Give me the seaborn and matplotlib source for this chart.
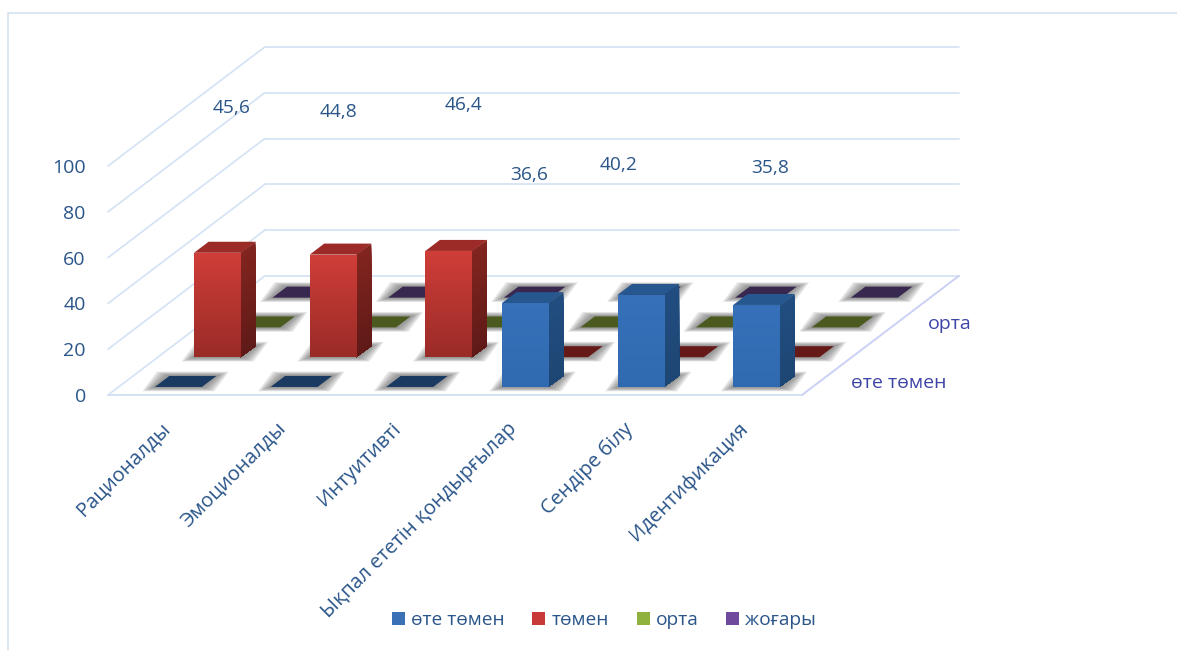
import matplotlib
matplotlib.use('Agg')
import matplotlib.pyplot as plt
import numpy as np
import pandas as pd
import seaborn as sns
from matplotlib.colors import to_rgb
from matplotlib.lines import Line2D
from matplotlib.patches import Patch, Polygon
from matplotlib.transforms import ScaledTranslation

categories = ['Рационалды', 'Эмоционалды', 'Интуитивті',
              'Ықпал ететін қондырғылар', 'Сендіре білу', 'Идентификация']
series_names = ['өте төмен', 'төмен', 'орта', 'жоғары']
very_low = [0, 0, 0, 36.6, 40.2, 35.8]
low = [45.6, 44.8, 46.4, 0, 0, 0]
medium = [0, 0, 0, 0, 0, 0]
high = [0, 0, 0, 0, 0, 0]
y_ticks = [0, 20, 40, 60, 80, 100]
depth_labels = {0: 'өте төмен', 2: 'орта'}

# styling: legend, front top, front bottom, top face, side top, side bottom, flat
palette = {
    'өте төмен': ['#3A70B5', '#3670B8', '#2F69B0', '#27578F', '#214D80', '#1E4674', '#1A3A62'],
    'төмен': ['#C8393A', '#CF3D38', '#982A26', '#9C2A27', '#83241F', '#5E1A17', '#651A18'],
    'орта': ['#8FB13E', '#8FB13E', '#7A9835', '#5E7027', '#56661F', '#4B5A1E', '#4B5A1E'],
    'жоғары': ['#6F4A9C', '#6F4A9C', '#5F3F88', '#46315F', '#40295A', '#38274F', '#38274F'],
}
# label offsets from the top of each bar, in pixels
label_offsets = [(14, 145), (5, 143), (15, 146), (4, 128), (-22, 130), (13, 137)]
depth_offsets = {0: (77, -3), 2: (50, -3)}

TEXT = '#2A5589'
GRID = '#D3E2F4'
DEPTH_X = 0.339   # one series back, in categories
DEPTH_Y = 13.0    # one series back, in value units
BAR_W = 0.407
FRONT_X, FRONT_Y = 0.32, 0.27
BAR_D = 0.37
STRIPS = 40

sns.set_theme(style='white')
plt.rcParams['font.family'] = ['Open Sans', 'Noto Sans', 'DejaVu Sans']

df = pd.DataFrame({
    'category': categories * 4,
    'series': np.repeat(series_names, 6),
    'value': very_low + low + medium + high,
})

fig = plt.figure(figsize=(11.77, 6.5), dpi=100, facecolor='white')
ax = fig.add_axes([108 / 1177, 1 - 395 / 650, 694 / 1177, 229 / 650])
ax.patch.set_alpha(0)


def gradient_face(x0, x1, y0, h, skew, top, bottom, z):
    # stacked strips from the top down, each one running to the bottom of the face
    top, bottom = np.array(to_rgb(top)), np.array(to_rgb(bottom))
    for k in range(STRIPS):
        f = k / STRIPS
        y_top = y0 + h * (1 - f)
        ax.add_patch(Polygon([(x0, y0), (x1, y0 + skew), (x1, y_top + skew), (x0, y_top)],
                             closed=True, fc=tuple(top + (bottom - top) * f), ec='none',
                             zorder=z, clip_on=False))


def floor_shadow(x0, x1, y0):
    dx, dy = BAR_D * DEPTH_X, BAR_D * DEPTH_Y
    for grow in [1.25, 1.05, 0.85, 0.65, 0.45, 0.25]:
        gx, gy = 0.086 * grow, 1.5 * grow
        ax.add_patch(Polygon([(x0 - gx, y0 - gy), (x1 + gx, y0 - gy),
                              (x1 + dx + gx, y0 + dy + gy), (x0 + dx - gx, y0 + dy + gy)],
                             closed=True, fc='#666666', ec='none', alpha=0.16,
                             zorder=1, clip_on=False))


# back wall, left wall and floor
back_x = (-0.5 + 4 * DEPTH_X, 5.5 + 4 * DEPTH_X)
for t in y_ticks:
    ax.plot([-0.5, -0.5 + 4 * DEPTH_X], [t, t + 4 * DEPTH_Y], color=GRID, lw=1.2, clip_on=False, zorder=0.5)
    ax.plot(back_x, [t + 4 * DEPTH_Y] * 2, color=GRID, lw=1.2, clip_on=False, zorder=0.5)
ax.plot([-0.5, 5.5], [0, 0], color=GRID, lw=1.4, clip_on=False, zorder=0.5)
ax.plot([5.5, 5.5 + 4 * DEPTH_X], [0, 4 * DEPTH_Y], color='#CBD0F5', lw=1.4, clip_on=False, zorder=0.5)

# bars, from the back row to the front
z = 2
tops = {}
for slot in [3, 2, 1, 0]:
    name = series_names[slot]
    colors = palette[name]
    before = len(ax.patches)
    sns.barplot(data=df[df['series'] == name], x='category', y='value', order=categories,
                color=colors[1], saturation=1, width=BAR_W, errorbar=None, ax=ax)
    for i, bar in enumerate(list(ax.patches[before:])):
        x0 = bar.get_x() + (slot + FRONT_X) * DEPTH_X
        y0 = (slot + FRONT_Y) * DEPTH_Y
        h = bar.get_height()
        x1 = x0 + BAR_W
        dx, dy = BAR_D * DEPTH_X, BAR_D * DEPTH_Y
        bar.set_x(x0)
        bar.set_y(y0)
        bar.set_clip_on(False)
        bar.set_zorder(z)
        bar.set_edgecolor('none')
        floor_shadow(x0, x1, y0)
        if h == 0:
            ax.add_patch(Polygon([(x0, y0), (x1, y0), (x1 + dx, y0 + dy), (x0 + dx, y0 + dy)],
                                 closed=True, fc=colors[6], ec='none', zorder=z, clip_on=False))
        else:
            ax.add_patch(Polygon([(x0, y0 + h), (x1, y0 + h), (x1 + dx, y0 + h + dy), (x0 + dx, y0 + h + dy)],
                                 closed=True, fc=colors[3], ec='none', zorder=z + 0.1, clip_on=False))
            gradient_face(x1 - 0.005, x1 + dx, y0, h, dy, colors[4], colors[5], z + 0.1)
            gradient_face(x0, x1, y0, h, 0, colors[1], colors[2], z + 0.2)
            tops[i] = ((x0 + x1) / 2, y0 + h, f'{h:g}'.replace('.', ','))
        z += 1

ax.set_xlim(-0.5, 5.5)
ax.set_ylim(0, 100)
ax.set_xlabel('')
ax.set_ylabel('')
ax.set_yticks(y_ticks)
ax.tick_params(axis='y', length=0, pad=16, labelsize=14, labelcolor=TEXT)
ax.tick_params(axis='x', length=0, pad=17, labelsize=14.5, labelcolor=TEXT)
plt.setp(ax.get_xticklabels(), rotation=45, ha='right', rotation_mode='anchor')
nudge = ScaledTranslation(-6 / 100, 0, fig.dpi_scale_trans)
for lab in ax.get_xticklabels():
    lab.set_transform(lab.get_transform() + nudge)
sns.despine(ax=ax, left=True, bottom=True)

# value labels float well above the bars in the original
for i, (xt, yt, txt) in tops.items():
    ax.annotate(txt, xy=(xt, yt), xytext=label_offsets[i], textcoords='offset pixels',
                ha='center', va='center', fontsize=13.8, color=TEXT, zorder=200)

# depth axis labels
for slot, txt in depth_labels.items():
    ax.annotate(txt, xy=(5.5 + (slot + 0.5) * DEPTH_X, (slot + 0.5) * DEPTH_Y),
                xytext=depth_offsets[slot], textcoords='offset pixels',
                ha='center', va='center', fontsize=14, color='#3F45A6', annotation_clip=False)

handles = [Patch(fc=palette[n][0], ec='none', label=n) for n in series_names]
fig.legend(handles=handles, loc='center', bbox_to_anchor=(604 / 1177, 1 - 620 / 650), ncol=4,
           frameon=False, fontsize=13.8, labelcolor=TEXT, handlelength=0.68, handleheight=0.68,
           handletextpad=0.32, columnspacing=1.45)

# outer chart frame, only partly visible in the screenshot
fig.add_artist(Line2D([8 / 1177, 8 / 1177, 1], [0, 1 - 13 / 650, 1 - 13 / 650],
                      color='#DCE6F2', lw=1.4, transform=fig.transFigure))

fig.savefig('out.png', dpi=100)
